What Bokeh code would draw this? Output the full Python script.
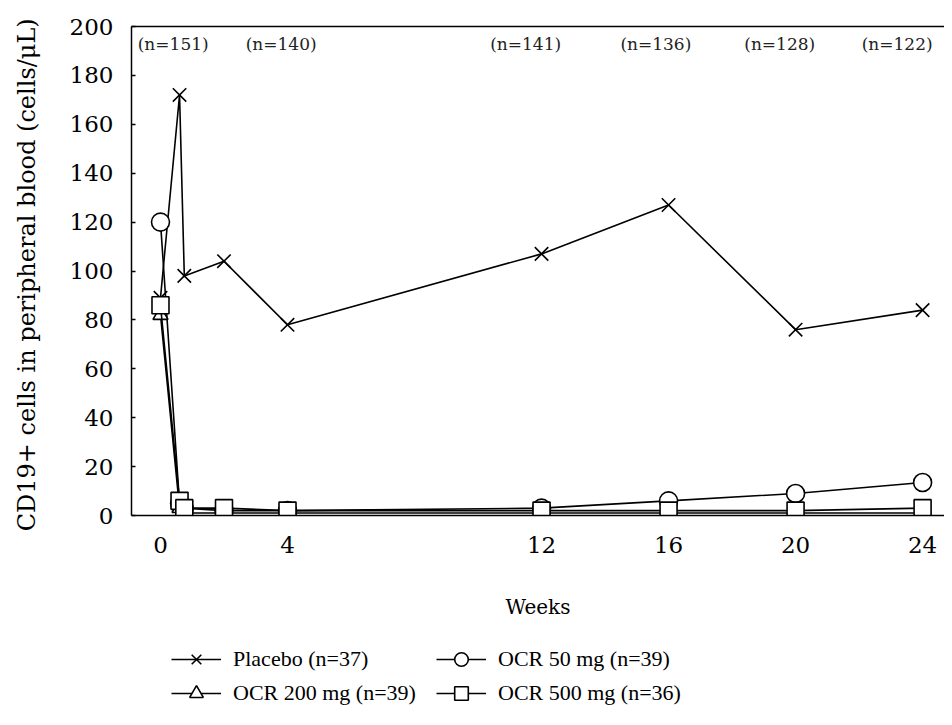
from bokeh.plotting import figure
from bokeh.models import (LinearAxis, Legend, LegendItem, FixedTicker, Range1d,
                          ColumnDataSource)
from bokeh.layouts import column
from bokeh.embed import file_html
from bokeh.resources import INLINE
from bokeh.core.properties import value

# ---- data -----------------------------------------------------------------
weeks = [0, 0.6, 0.75, 2, 4, 12, 16, 20, 24]
placebo = [89, 172, 98, 104, 78, 107, 127, 76, 84]
ocr50 = [120, 5, 3, 2, 2, 3, 6, 9, 13.5]
ocr200 = [82, 3, 1, 1, 1, 1, 1, 1, 1]
ocr500 = [86, 6, 3, 3, 2, 2, 2, 2, 3]
series_names = ["Placebo (n=37)", "OCR 50 mg (n=39)",
                "OCR 200 mg (n=39)", "OCR 500 mg (n=36)"]
x_ticks = [0, 4, 12, 16, 20, 24]
y_ticks = list(range(0, 201, 20))
n_labels = ["(n=151)", "(n=140)", "(n=141)", "(n=136)", "(n=128)", "(n=122)"]
n_label_weeks = [0.4, 3.8, 11.5, 15.6, 19.5, 23.2]
n_label_y = 193

SERIF = "DejaVu Serif"
LEG_FONT = "Liberation Serif"

p = figure(frame_width=813, frame_height=489,
           x_range=Range1d(-0.913, 24.69), y_range=Range1d(0, 200),
           output_backend="svg", toolbar_location=None,
           min_border_left=131, min_border_top=26, min_border_right=0,
           min_border_bottom=120, outline_line_color=None,
           background_fill_color="white", border_fill_color="white")
p.grid.visible = False

# x axis
xa = p.xaxis[0]
xa.ticker = FixedTicker(ticks=x_ticks)
xa.major_tick_in = 0
xa.major_tick_out = 0
xa.minor_tick_in = 0
xa.minor_tick_out = 0
xa.axis_line_width = 1.5
xa.axis_line_color = "black"
xa.major_label_text_font = SERIF
xa.major_label_text_font_size = "23px"
xa.major_label_text_color = "black"
xa.major_label_standoff = 21
xa.axis_label = "Weeks"
xa.axis_label_text_font = SERIF
xa.axis_label_text_font_style = "normal"
xa.axis_label_text_font_size = "20px"
xa.axis_label_text_color = "black"
xa.axis_label_standoff = 39

# y axis
ya = p.yaxis[0]
ya.ticker = FixedTicker(ticks=y_ticks)
ya.major_tick_in = 4
ya.major_tick_out = 0
ya.minor_tick_in = 0
ya.minor_tick_out = 0
ya.axis_line_width = 1.5
ya.axis_line_color = "black"
ya.major_tick_line_width = 1.5
ya.major_label_text_font = SERIF
ya.major_label_text_font_size = "23px"
ya.major_label_text_color = "black"
ya.major_label_standoff = 18
ya.axis_label = "CD19+ cells in peripheral blood  (cells/\u03bcL)"
ya.axis_label_text_font = SERIF
ya.axis_label_text_font_style = "normal"
ya.axis_label_text_font_size = "24px"
ya.axis_label_text_color = "black"
ya.axis_label_standoff = 26

# top border as an unlabeled axis
top = LinearAxis(ticker=FixedTicker(ticks=[]), major_label_text_font_size="0px",
                 major_tick_in=0, major_tick_out=0, minor_tick_in=0,
                 minor_tick_out=0, axis_line_width=1.5, axis_line_color="black")
p.add_layout(top, "above")

# series
specs = [
    (placebo, "x", 19),
    (ocr50, "circle", 18),
    (ocr200, "triangle", 15),
    (ocr500, "square", 17),
]
sources = []
for vals, marker, size in specs:
    src = ColumnDataSource(dict(x=weeks, y=vals))
    sources.append(src)
    p.line("x", "y", source=src, line_color="black", line_width=1.6)
    p.scatter("x", "y", source=src, marker=marker, size=size,
              line_color="black", line_width=1.6, fill_color="white")

# n labels
nsrc = ColumnDataSource(dict(x=n_label_weeks, y=[n_label_y] * len(n_labels),
                             t=n_labels))
p.text("x", "y", text="t", source=nsrc, text_font=value(SERIF),
       text_font_size="17px", text_align="center", text_baseline="middle",
       text_color="#222222")

# ---- legend strip below the chart ------------------------------------------
# (same sources; view ranges far away so only the legend swatches are drawn)
pl = figure(width=944, height=82, x_range=Range1d(1000, 1001),
            y_range=Range1d(1000, 1001),
            output_backend="svg", toolbar_location=None,
            x_axis_location=None, y_axis_location=None,
            min_border_left=131, min_border_right=0, min_border_top=0,
            min_border_bottom=0, outline_line_color=None,
            background_fill_color="white", border_fill_color="white")
pl.grid.visible = False
items = []
for (vals, marker, size), name, src in zip(specs, series_names, sources):
    lr = pl.line("x", "y", source=src, line_color="black", line_width=1.6)
    sr = pl.scatter("x", "y", source=src, marker=marker, size=size,
                    line_color="black", line_width=1.6, fill_color="white")
    items.append(LegendItem(label=name, renderers=[lr, sr]))

legend = Legend(items=items, location=(40, 7), orientation="horizontal",
                ncols=2, margin=0, padding=4, border_line_color=None,
                background_fill_alpha=0, glyph_width=50, glyph_height=34,
                label_height=34, label_width=203, label_standoff=12, spacing=0,
                label_text_font=LEG_FONT, label_text_font_size="22px",
                label_text_color="black")
pl.add_layout(legend, "center")

layout = column(p, pl, spacing=0)
open("out.html", "w").write(file_html(layout, INLINE))
